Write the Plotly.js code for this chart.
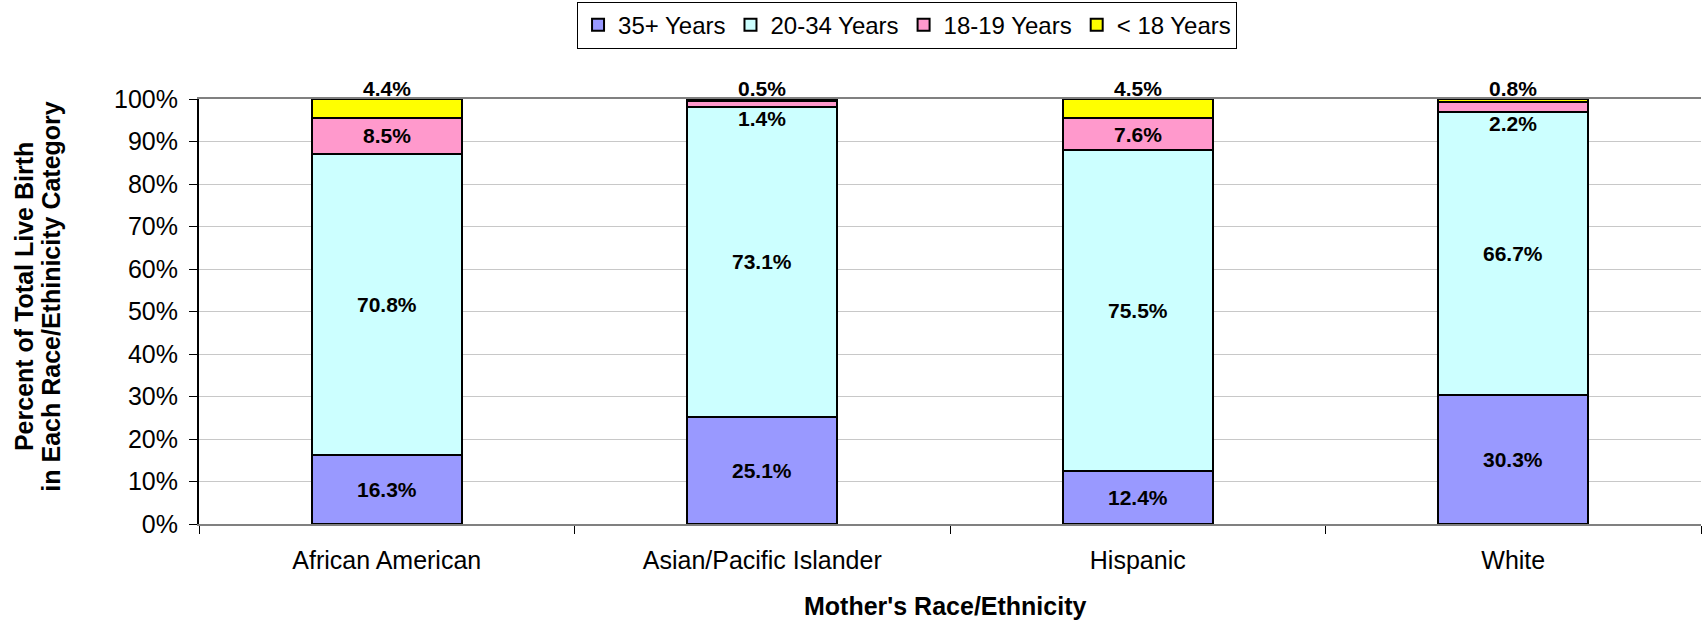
<!DOCTYPE html>
<html>
<head>
<meta charset="utf-8">
<script src="https://cdn.plot.ly/plotly-3.0.1.min.js"></script>
<style>
  html, body { margin: 0; padding: 0; background: #ffffff; }
  #chart { width: 1702px; height: 623px; }
</style>
</head>
<body>
<div id="chart"></div>
<script>
// ---- Data ----
const categories = ['African American', 'Asian/Pacific Islander', 'Hispanic', 'White'];
const seriesNames = ['35+ Years', '20-34 Years', '18-19 Years', '< 18 Years'];
const age35plus = [16.3, 25.1, 12.4, 30.3];
const age20to34 = [70.8, 73.1, 75.5, 66.7];
const age18to19 = [8.5, 1.4, 7.6, 2.2];
const under18 = [4.4, 0.5, 4.5, 0.8];
const yTickValues = [0, 10, 20, 30, 40, 50, 60, 70, 80, 90, 100];
const yTickLabels = ['0%', '10%', '20%', '30%', '40%', '50%', '60%', '70%', '80%', '90%', '100%'];
const xAxisTitle = "Mother's Race/Ethnicity";
const yAxisTitleLines = ['Percent of Total Live Birth', 'in Each Race/Ethinicity Category'];

// ---- Styles ----
const FONT = 'Liberation Sans, Arial, Helvetica, sans-serif';
const colors = ['#9999FF', '#CCFFFF', '#FF99CC', '#FFFF00'];
const series = [age35plus, age20to34, age18to19, under18];
const Y_MAX = 100;

const traces = series.map((vals, s) => ({
  type: 'bar',
  name: seriesNames[s],
  x: categories,
  y: vals,
  marker: { color: colors[s], line: { color: '#000000', width: 2 } },
  hoverinfo: 'skip'
}));

// data labels
const annotations = [];
categories.forEach((cat, i) => {
  let base = 0;
  series.forEach((vals, s) => {
    const v = vals[i];
    const ann = {
      xref: 'x', yref: 'y', x: cat, showarrow: false,
      text: v.toFixed(1) + '%',
      font: { family: FONT, size: 21, color: '#000000', weight: 'bold' },
      yanchor: 'middle'
    };
    if (s === series.length - 1) {
      ann.y = Math.min(base + v, Y_MAX); ann.yshift = 11;
    } else if (v < 3) {
      ann.y = base; ann.yshift = -12;
    } else {
      ann.y = base + v / 2;
    }
    annotations.push(ann);
    base += v;
  });
});

// axis titles
annotations.push({
  xref: 'paper', yref: 'paper', x: 0.4967, y: -0.193,
  xanchor: 'center', yanchor: 'middle', showarrow: false,
  text: xAxisTitle,
  font: { family: FONT, size: 25, color: '#000000', weight: 'bold' }
});
const yTitleX = [-0.1165, -0.0988];
yAxisTitleLines.forEach((line, k) => {
  annotations.push({
    xref: 'paper', yref: 'paper', x: yTitleX[k], y: 0.534,
    xanchor: 'center', yanchor: 'middle', showarrow: false, textangle: -90,
    text: line,
    font: { family: FONT, size: 25, color: '#000000', weight: 'bold' }
  });
});

const layout = {
  width: 1702, height: 623,
  margin: { l: 199, r: 1, t: 99, b: 99, pad: 0 },
  paper_bgcolor: '#ffffff', plot_bgcolor: '#ffffff',
  barmode: 'stack',
  bargap: 0.6,
  font: { family: FONT, size: 25, color: '#000000' },
  showlegend: true,
  legend: {
    orientation: 'h', traceorder: 'normal',
    x: 0.4714, xanchor: 'center', y: 1.229, yanchor: 'top',
    bordercolor: '#000000', borderwidth: 1, bgcolor: '#ffffff',
    font: { family: FONT, size: 24, color: '#000000' },
    itemwidth: 30, tracegroupgap: 0
  },
  xaxis: {
    type: 'category',
    showline: true, linecolor: '#808080', linewidth: 2, mirror: true,
    ticks: 'outside', tickson: 'boundaries', ticklen: 8, tickcolor: '#000000', tickwidth: 1,
    ticklabelstandoff: 13,
    tickfont: { family: FONT, size: 25, color: '#000000' },
    showgrid: false, zeroline: false, automargin: false,
    fixedrange: true
  },
  yaxis: {
    range: [0, Y_MAX],
    tickmode: 'array', tickvals: yTickValues, ticktext: yTickLabels,
    showline: true, linecolor: '#000000', linewidth: 2,
    ticks: 'outside', ticklen: 8, tickcolor: '#000000', tickwidth: 1,
    ticklabelstandoff: 6,
    tickfont: { family: FONT, size: 25, color: '#000000' },
    showgrid: true, gridcolor: '#C8C8C8', gridwidth: 1,
    zeroline: false, automargin: false, fixedrange: true
  },
  annotations: annotations
};

Plotly.newPlot('chart', traces, layout, { displayModeBar: false, staticPlot: true });
</script>
</body>
</html>
